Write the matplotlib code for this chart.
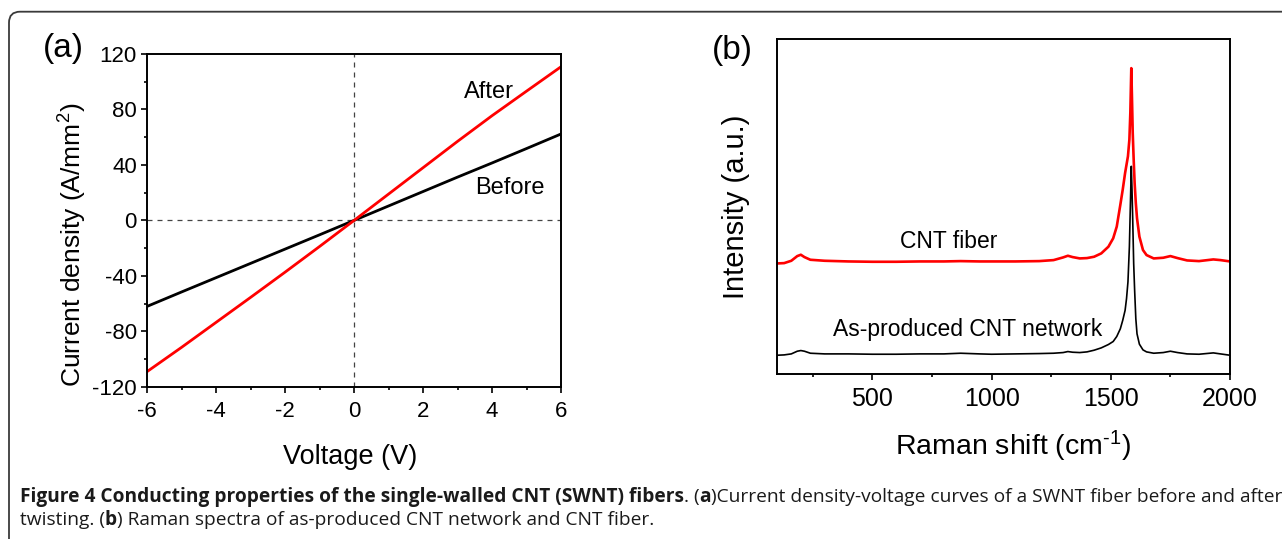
import matplotlib
matplotlib.use("Agg")
import matplotlib.pyplot as plt
from matplotlib.patches import FancyBboxPatch
from matplotlib.ticker import MultipleLocator

plt.rcParams['font.family'] = ['Liberation Sans', 'DejaVu Sans']
plt.rcParams['mathtext.fontset'] = 'custom'
plt.rcParams['mathtext.rm'] = 'Liberation Sans'
plt.rcParams['mathtext.it'] = 'Liberation Sans'
plt.rcParams['axes.unicode_minus'] = False

# ---- panel (a): I-V curves ----
voltage = [-6, -5, -4, -3, -2, -1, 0, 1, 2, 3, 4, 5, 6]
before = [-62.0, -51.6, -41.3, -31.0, -20.7, -10.4, 0, 10.4, 20.8, 31.2, 41.4, 51.8, 62.3]
after = [-109.0, -91.5, -73.5, -55.5, -37.3, -18.8, 0, 19.0, 38.0, 57.0, 75.5, 93.2, 110.8]

# ---- panel (b): Raman spectra ----
raman_shift = [100, 130, 160, 185, 200, 215, 240, 300, 400, 500, 600, 700, 800, 870, 950,
               1000, 1100, 1200, 1260, 1300, 1320, 1340, 1370, 1400, 1430, 1460, 1490, 1510,
               1525, 1540, 1550, 1560, 1566, 1572, 1578, 1582, 1586, 1589, 1592, 1596, 1600,
               1605, 1610, 1620, 1635, 1650, 1680, 1720, 1750, 1780, 1820, 1870, 1930, 1960, 2000]
fiber = [0.330, 0.331, 0.338, 0.352, 0.356, 0.349, 0.341, 0.338, 0.336, 0.335, 0.335, 0.336, 0.336, 0.337, 0.336,
         0.336, 0.336, 0.337, 0.340, 0.348, 0.353, 0.349, 0.345, 0.346, 0.350, 0.360, 0.380, 0.405,
         0.440, 0.505, 0.550, 0.600, 0.625, 0.650, 0.700, 0.780, 0.913, 0.820, 0.720, 0.640, 0.570,
         0.510, 0.465, 0.410, 0.370, 0.355, 0.345, 0.347, 0.352, 0.346, 0.339, 0.337, 0.342, 0.340, 0.336]
network = [0.056, 0.057, 0.060, 0.068, 0.070, 0.068, 0.062, 0.060, 0.060, 0.059, 0.059, 0.060, 0.060, 0.062, 0.060,
           0.059, 0.060, 0.061, 0.062, 0.064, 0.067, 0.065, 0.064, 0.066, 0.071, 0.078, 0.088, 0.097,
           0.112, 0.135, 0.160, 0.190, 0.225, 0.275, 0.380, 0.500, 0.620, 0.550, 0.460, 0.330, 0.250,
           0.165, 0.120, 0.089, 0.072, 0.066, 0.062, 0.064, 0.068, 0.064, 0.060, 0.059, 0.063, 0.060, 0.056]

W, H = 1282, 539
fig = plt.figure(figsize=(W / 100, H / 100), dpi=100)


def fx(px):
    return px / W


def fy(py):
    return 1 - py / H


# outer rounded frame (runs off the right and bottom)
frame = FancyBboxPatch((9, -30), 1400, H - 11.7 + 30, boxstyle="round,pad=0,rounding_size=11",
                       transform=None, fill=False, edgecolor='#3a3a3a', linewidth=1.3)
fig.add_artist(frame)

# ---------- (a) ----------
ax1 = fig.add_axes([fx(147.3), fy(386.7), fx(561 - 147.3), (386.7 - 54) / H])
ax1.plot(voltage, before, color='black', lw=2.0)
ax1.plot(voltage, after, color='#ff0000', lw=2.0)
ax1.axhline(0, color='#444444', lw=0.9, ls=(0, (4, 4)), zorder=0)
ax1.axvline(0, color='#444444', lw=0.9, ls=(0, (4, 4)), zorder=0)
ax1.set_xlim(-6, 6)
ax1.set_ylim(-120, 120)
ax1.xaxis.set_major_locator(MultipleLocator(2))
ax1.xaxis.set_minor_locator(MultipleLocator(1))
ax1.yaxis.set_major_locator(MultipleLocator(40))
ax1.yaxis.set_minor_locator(MultipleLocator(20))
ax1.tick_params(which='both', direction='out', width=1.2, labelsize=16, top=False, right=False)
ax1.tick_params(which='major', length=4.5, pad=3)
ax1.tick_params(which='minor', length=2.5)
ax1.tick_params(axis='x', which='major', pad=6)
for s in ax1.spines.values():
    s.set_linewidth(1.4)
ax1.text(3.9, 88, 'After', ha='center', va='baseline', fontsize=17)
ax1.text(4.53, 19, 'Before', ha='center', va='baseline', fontsize=17)

# ---------- (b) ----------
ax2 = fig.add_axes([fx(777), fy(374), fx(1230 - 777), (374 - 39) / H])
ax2.plot(raman_shift, fiber, color='#ff0000', lw=1.9)
ax2.plot(raman_shift, network, color='black', lw=1.2)
ax2.set_xlim(100, 2000)
ax2.set_ylim(0, 1)
ax2.set_yticks([])
ax2.set_xticks([500, 1000, 1500, 2000])
ax2.xaxis.set_minor_locator(MultipleLocator(250))
ax2.tick_params(which='both', direction='out', width=1.2, labelsize=18, top=False)
ax2.tick_params(which='major', length=4.5, pad=5)
ax2.tick_params(which='minor', length=2.5)
for s in ax2.spines.values():
    s.set_linewidth(1.4)
ax2.text(822, 0.375, 'CNT fiber', ha='center', va='baseline', fontsize=16.5)
ax2.text(898, 0.113, 'As-produced CNT network', ha='center', va='baseline', fontsize=16.5)

# axis labels and panel letters
fig.text(fx(63), fy(48), '(a)', ha='center', va='center', fontsize=24)
fig.text(fx(732), fy(50), '(b)', ha='center', va='center', fontsize=24)
fig.text(fx(73), fy(245), 'Current density (A/mm$^2$)', rotation=90, ha='center', va='center', fontsize=19)
fig.text(fx(350), fy(457), 'Voltage (V)', ha='center', va='center', fontsize=19.5)
fig.text(fx(736.5), fy(207), 'Intensity (a.u.)', rotation=90, ha='center', va='center', fontsize=21)
fig.text(fx(1013), fy(446), 'Raman shift (cm$^{\\text{-}1}$)', ha='center', va='center', fontsize=20.5)

# ---------- caption ----------
cap_font = ['Open Sans', 'DejaVu Sans']
cap_color = '#1a1a1a'
line1 = [("Figure 4 Conducting properties of the single-walled CNT (SWNT) fibers", 'bold'),
         (". (", 'normal'), ("a", 'bold'),
         (")Current density-voltage curves of a SWNT fiber before and after", 'normal')]
line2 = [("twisting. (", 'normal'), ("b", 'bold'),
         (") Raman spectra of as-produced CNT network and CNT fiber.", 'normal')]

renderer = fig.canvas.get_renderer()


def piece_width(txt, weight, size):
    t = fig.text(0, 0, txt, fontsize=size, fontweight=weight, family=cap_font)
    w = t.get_window_extent(renderer).width
    t.remove()
    return w


ref = 12.0
w1 = sum(piece_width(t, wt, ref) for t, wt in line1)
cap_size = ref * (1277 - 20) / w1


def put_line(pieces, x0, base):
    x = x0
    for txt, wt in pieces:
        fig.text(fx(x), fy(base), txt, fontsize=cap_size, fontweight=wt, family=cap_font,
                 color=cap_color, ha='left', va='baseline')
        x += piece_width(txt, wt, cap_size)


put_line(line1, 20, 502)
put_line(line2, 20, 525)

fig.savefig('out.png', dpi=100)
